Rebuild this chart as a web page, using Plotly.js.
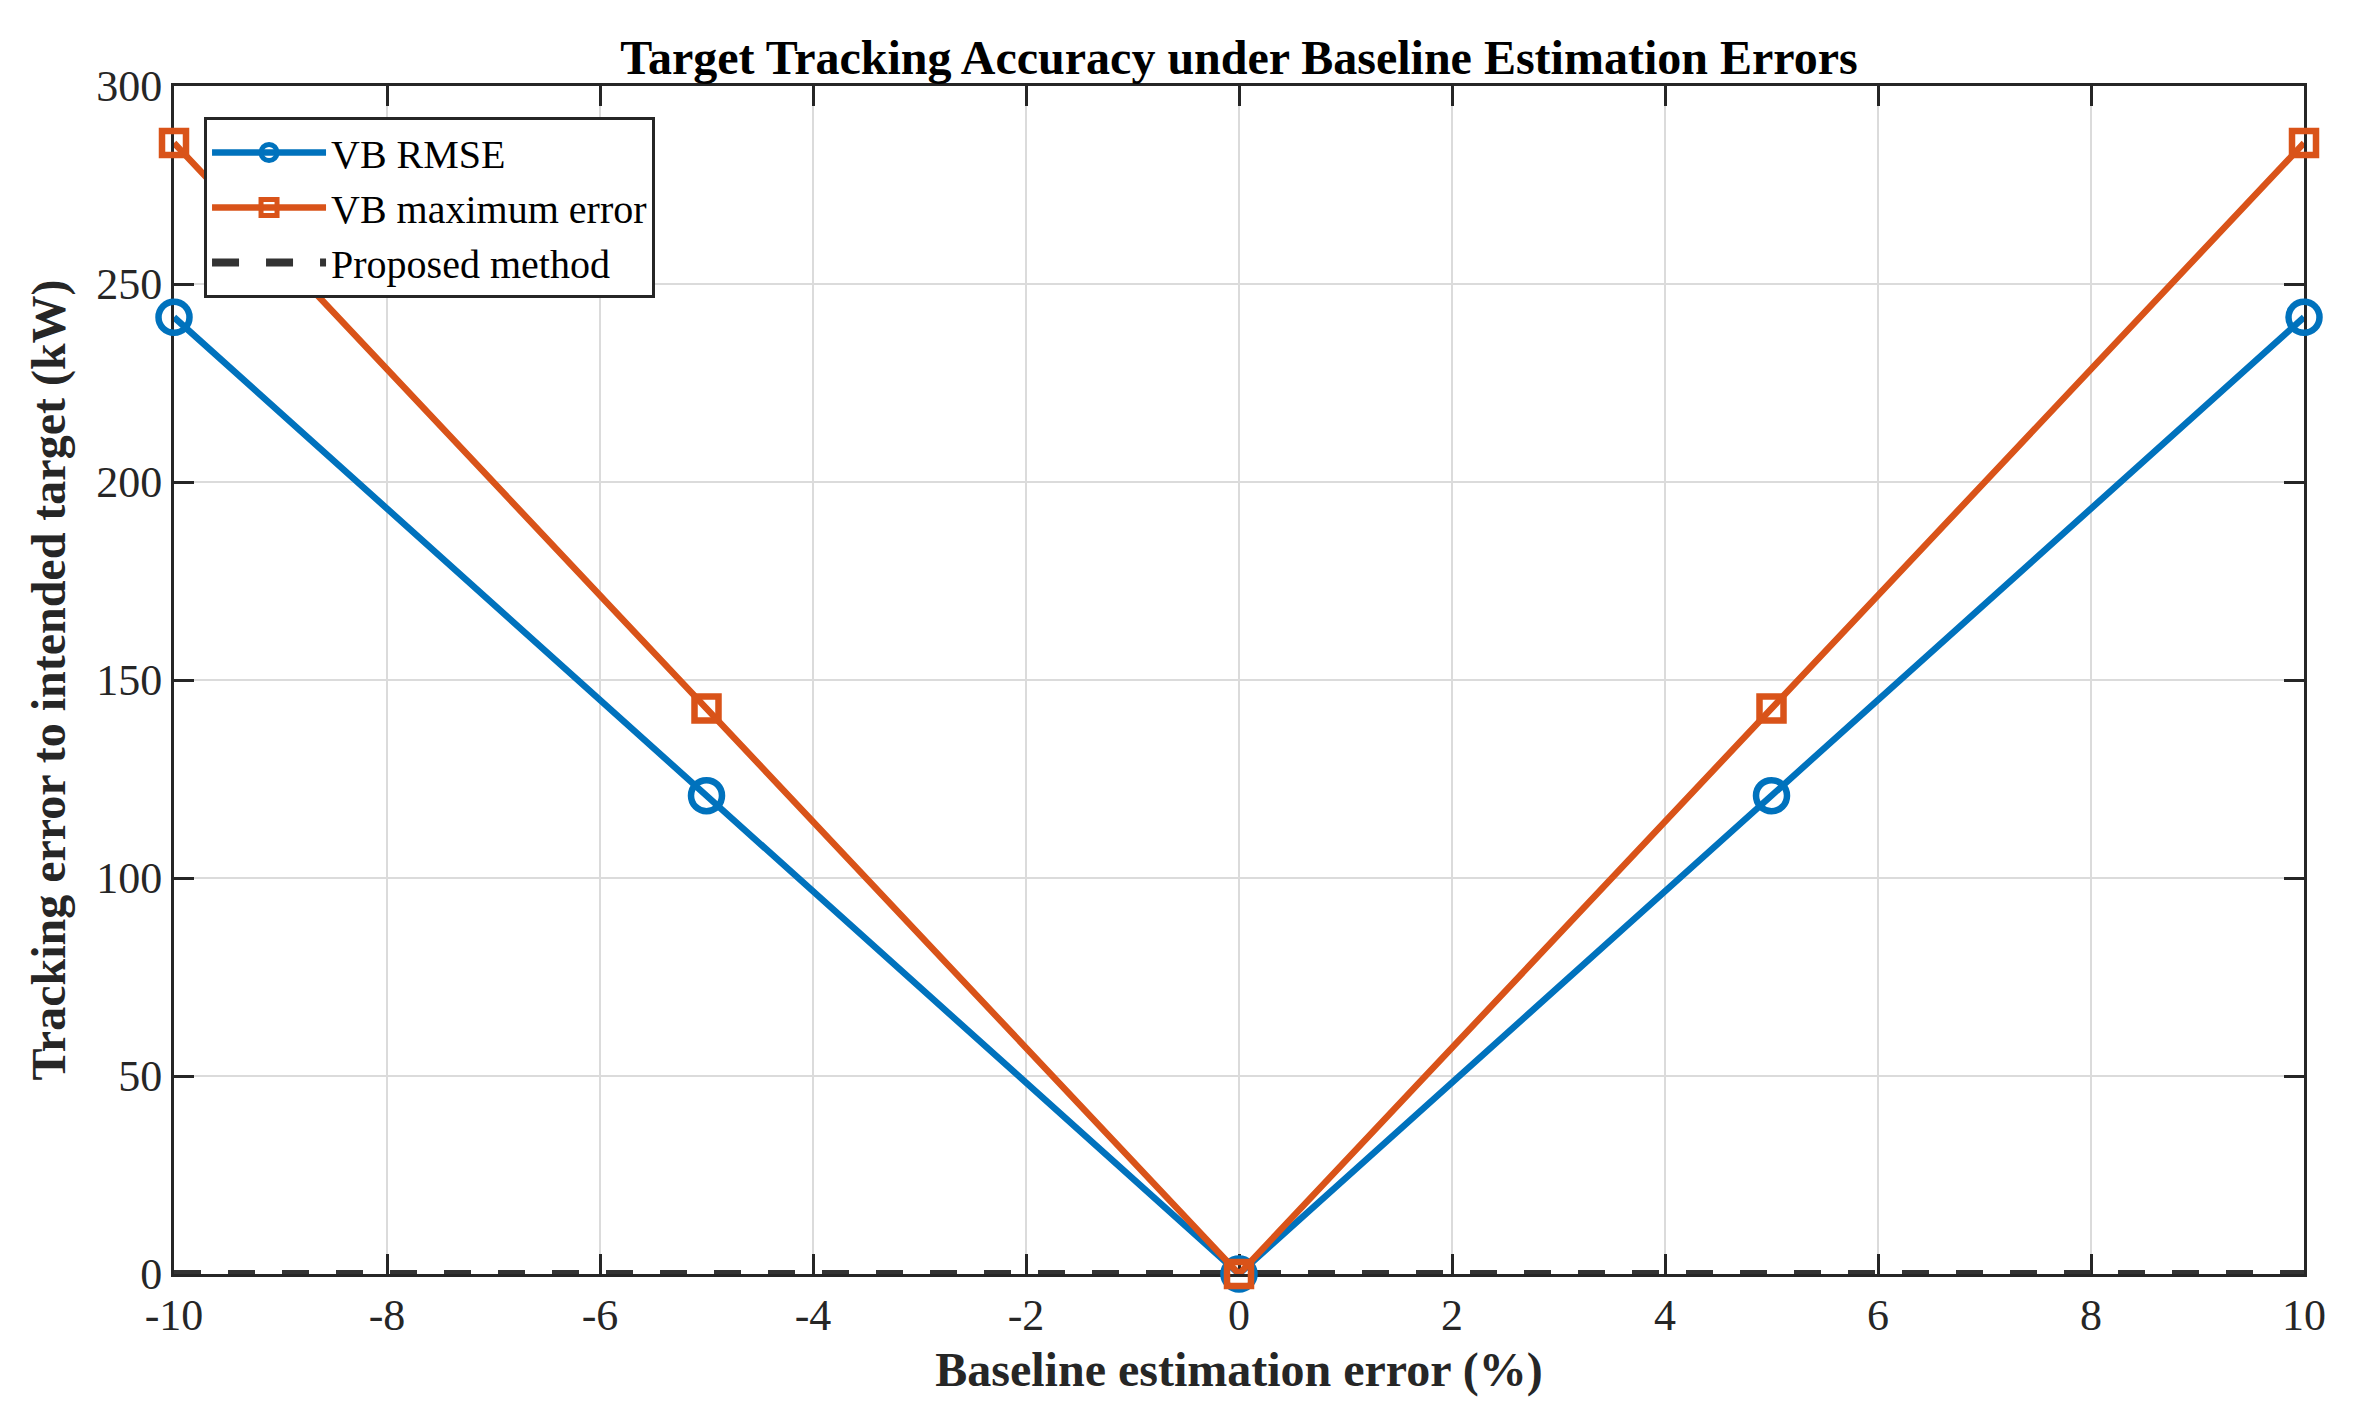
<!DOCTYPE html>
<html>
<head>
<meta charset="utf-8">
<script src="https://cdn.plot.ly/plotly-3.0.1.min.js"></script>
<style>
  html, body { margin: 0; padding: 0; background: #ffffff; }
  #graphe { width: 2366px; height: 1424px; }
</style>
</head>
<body>
<div id="graphe"></div>
<script>
// erreur d'estimation de la ligne de base (%)
let erreurs_baseline = [-10, -5, 0, 5, 10]
let vb_rmse = [241.6, 120.8, 0, 120.8, 241.6]
let vb_erreur_max = [285.6, 142.8, 0, 142.8, 285.6]
let methode_proposee = [0, 0, 0, 0, 0]

let ticks_x = [-10, -8, -6, -4, -2, 0, 2, 4, 6, 8, 10]
let labels_x = ["-10", "-8", "-6", "-4", "-2", "0", "2", "4", "6", "8", "10"]
let ticks_y = [0, 50, 100, 150, 200, 250, 300]
let labels_y = ["0", "50", "100", "150", "200", "250", "300"]

let police = "Liberation Serif"
let gris_axe = "#262626"

let data = [
    {x: erreurs_baseline, y: methode_proposee, mode: "lines", type: "scatter",
        name: "Proposed method", legendrank: 3, cliponaxis: false,
        line: {width: 8, color: "#333333", dash: "27px,27px"}},
    {x: erreurs_baseline, y: vb_rmse, mode: "lines+markers", type: "scatter",
        name: "VB RMSE", legendrank: 1, cliponaxis: false,
        line: {width: 6.5, color: "#0072BD"},
        marker: {symbol: "circle-open", size: 31, color: "#0072BD", line: {width: 6.5}}},
    {x: erreurs_baseline, y: vb_erreur_max, mode: "lines+markers", type: "scatter",
        name: "VB maximum error", legendrank: 2, cliponaxis: false,
        line: {width: 6.5, color: "#D95319"},
        marker: {symbol: "square-open", size: 24, color: "#D95319", line: {width: 6.5}}}
]

let axe_commun = {
    ticks: "inside",
    ticklen: 20,
    tickwidth: 3,
    tickcolor: gris_axe,
    showline: true,
    linewidth: 3,
    linecolor: gris_axe,
    mirror: "ticks",
    layer: "below traces",
    showgrid: true,
    gridcolor: "#dbdbdb",
    gridwidth: 2.5,
    zeroline: false,
    automargin: false,
    tickfont: {family: police, size: 44, color: gris_axe}
}

let layout = {
    width: 2366,
    height: 1424,
    paper_bgcolor: "#ffffff",
    plot_bgcolor: "#ffffff",
    margin: {l: 174, r: 62, t: 86, b: 150, pad: 0},
    title: {
        text: "Target Tracking Accuracy under Baseline Estimation Errors",
        font: {family: police, size: 48, color: "#000000", weight: "bold"},
        xref: "paper", x: 0.5, xanchor: "center",
        yref: "paper", y: 1, yanchor: "bottom",
        pad: {b: 12}
    },
    xaxis: Object.assign({}, axe_commun, {
        range: [-10, 10],
        tickmode: "array",
        tickvals: ticks_x,
        ticktext: labels_x,
        title: {text: "Baseline estimation error (%)", standoff: 14,
            font: {family: police, size: 48, color: gris_axe, weight: "bold"}}
    }),
    yaxis: Object.assign({}, axe_commun, {
        range: [0, 300],
        tickmode: "array",
        tickvals: ticks_y,
        ticktext: labels_y,
        title: {text: "Tracking error to intended target (kW)", standoff: 16,
            font: {family: police, size: 48, color: gris_axe, weight: "bold"}}
    }),
    showlegend: true,
    legend: {
        x: 0.0141, y: 0.9739, xanchor: "left", yanchor: "top",
        bgcolor: "#ffffff",
        bordercolor: gris_axe,
        borderwidth: 3,
        itemwidth: 114,
        tracegroupgap: 0,
        font: {family: police, size: 40, color: "#000000"}
    }
}

Plotly.newPlot("graphe", data, layout, {staticPlot: true})
</script>
</body>
</html>
